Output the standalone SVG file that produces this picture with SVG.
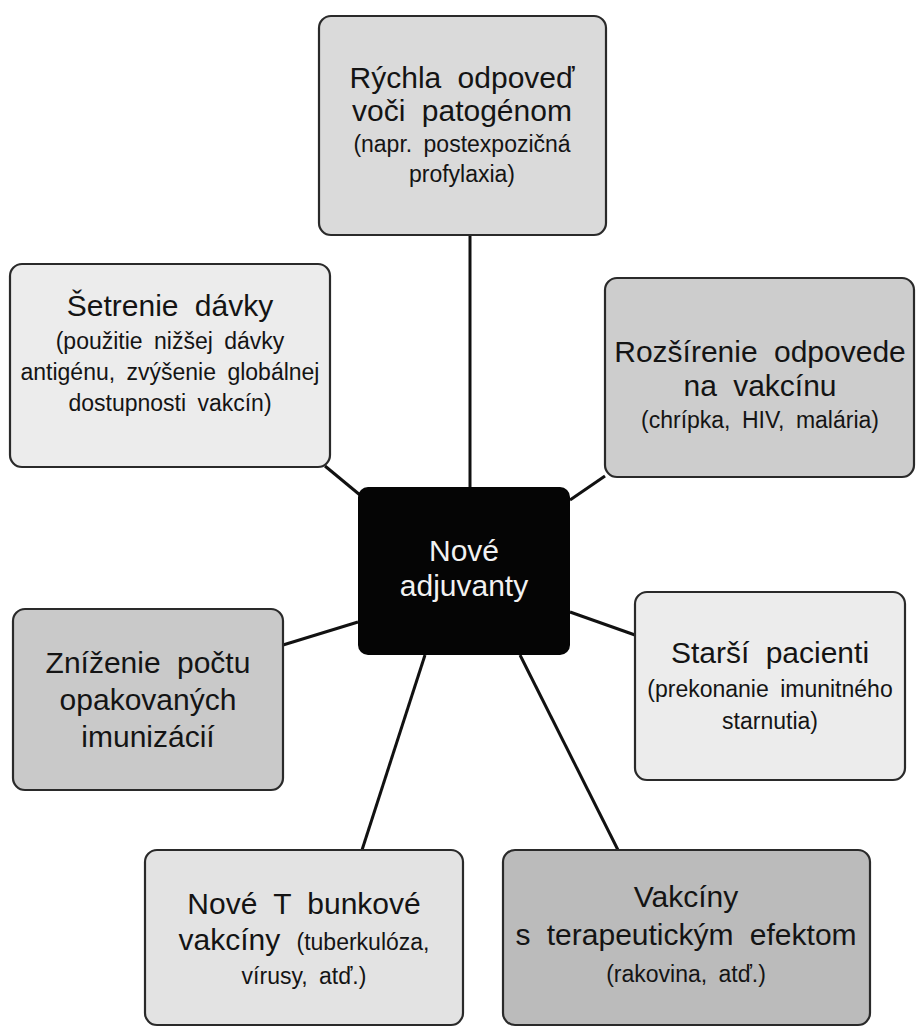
<svg xmlns="http://www.w3.org/2000/svg" width="917" height="1031" viewBox="0 0 917 1031">
<style>
.box{stroke:#2a2a2a;stroke-width:2.2}
.t{font-family:"Liberation Sans",Arial,sans-serif;font-size:30px;fill:#141414;text-anchor:middle;word-spacing:8px}
.s{font-family:"Liberation Sans",Arial,sans-serif;font-size:23px;fill:#141414;text-anchor:middle;word-spacing:5px}
.c{font-family:"Liberation Sans",Arial,sans-serif;font-size:30px;fill:#f2f2f2;text-anchor:middle}
.ln{stroke:#111;stroke-width:3;fill:none}
</style>
<rect width="917" height="1031" fill="#ffffff"/>
<g id="connectors">
<line class="ln" x1="470" y1="235" x2="470" y2="487"/>
<line class="ln" x1="325" y1="466" x2="360" y2="495"/>
<line class="ln" x1="605" y1="476" x2="570" y2="500"/>
<line class="ln" x1="283" y1="645" x2="358" y2="622"/>
<line class="ln" x1="570" y1="612" x2="635" y2="635"/>
<line class="ln" x1="425" y1="655" x2="362" y2="850"/>
<line class="ln" x1="520" y1="655" x2="618" y2="850"/>
</g>
<g id="node-top">
<rect class="box" x="319" y="16" width="287" height="219" rx="12" fill="#dadada"/>
<text class="t" x="462" y="88">Rýchla odpoveď</text>
<text class="t" x="462" y="121">voči patogénom</text>
<text class="s" x="462" y="152">(napr. postexpozičná</text>
<text class="s" x="462" y="182">profylaxia)</text>
</g>
<g id="node-setrenie">
<rect class="box" x="10" y="264" width="320" height="203" rx="12" fill="#ececec"/>
<text class="t" x="170" y="316">Šetrenie dávky</text>
<text class="s" x="170" y="349">(použitie nižšej dávky</text>
<text class="s" x="170" y="380">antigénu, zvýšenie globálnej</text>
<text class="s" x="170" y="411">dostupnosti vakcín)</text>
</g>
<g id="node-rozsirenie">
<rect class="box" x="605" y="278" width="309" height="199" rx="12" fill="#cdcdcd"/>
<text class="t" x="760" y="362">Rozšírenie odpovede</text>
<text class="t" x="760" y="396">na vakcínu</text>
<text class="s" x="760" y="428">(chrípka, HIV, malária)</text>
</g>
<g id="node-center">
<rect x="358" y="487" width="212" height="168" rx="10" fill="#050505"/>
<text class="c" x="464" y="561">Nové</text>
<text class="c" x="464" y="596">adjuvanty</text>
</g>
<g id="node-znizenie">
<rect class="box" x="13" y="609" width="270" height="181" rx="12" fill="#c9c9c9"/>
<text class="t" x="148" y="673">Zníženie počtu</text>
<text class="t" x="148" y="710">opakovaných</text>
<text class="t" x="148" y="747">imunizácií</text>
</g>
<g id="node-starsi">
<rect class="box" x="635" y="592" width="270" height="188" rx="12" fill="#ececec"/>
<text class="t" x="770" y="663">Starší pacienti</text>
<text class="s" x="770" y="697">(prekonanie imunitného</text>
<text class="s" x="770" y="729">starnutia)</text>
</g>
<g id="node-tbunky">
<rect class="box" x="145" y="850" width="318" height="175" rx="12" fill="#e3e3e3"/>
<text class="t" x="304" y="914">Nové T bunkové</text>
<text class="t" x="304" y="950">vakcíny <tspan font-size="23">(tuberkulóza,</tspan></text>
<text class="s" x="304" y="984">vírusy, atď.)</text>
</g>
<g id="node-terapeuticke">
<rect class="box" x="503" y="850" width="367" height="175" rx="12" fill="#bbbbbb"/>
<text class="t" x="686" y="907">Vakcíny</text>
<text class="t" x="686" y="945">s terapeutickým efektom</text>
<text class="s" x="686" y="982">(rakovina, atď.)</text>
</g>
</svg>
